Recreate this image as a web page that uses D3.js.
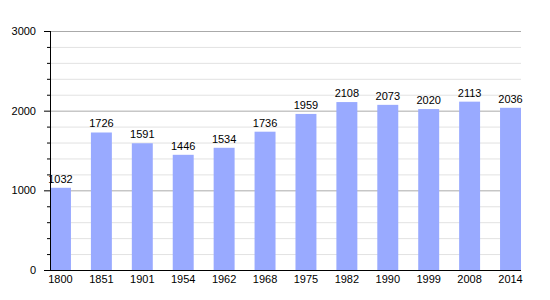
<!DOCTYPE html>
<html><head><meta charset="utf-8">
<script src="https://cdn.jsdelivr.net/npm/d3@7/dist/d3.min.js"></script>
<style>body{margin:0;background:#fff}svg{display:block}text{font-family:"Liberation Sans",Arial,sans-serif;font-size:11px;fill:#000}</style>
</head><body>
<svg id="c" width="550" height="300"></svg>
<script>
const years = ["1800","1851","1901","1954","1962","1968","1975","1982","1990","1999","2008","2014"];
const population = [1032,1726,1591,1446,1534,1736,1959,2108,2073,2020,2113,2036];
const majorTicks = [0,1000,2000,3000];
const minorTicks = d3.range(0,3001,200);

(function(){
const svg = d3.select("#c");
const mL = 50, mR = 521, mT = 31, mB = 270;
const x = d3.scaleBand().domain(years).range([mL, mR]).paddingInner(20/41).paddingOuter(0);
const y = d3.scaleLinear().domain([0,3000]).range([mB, mT]);

svg.append("g").selectAll("line").data(minorTicks.filter(d=>d%1000!==0)).join("line")
  .attr("x1",mL).attr("x2",mR).attr("y1",d=>y(d)+0.5).attr("y2",d=>y(d)+0.5)
  .attr("stroke","#e2e2e2").attr("stroke-width",1);
svg.append("g").selectAll("line").data(majorTicks.filter(d=>d>0)).join("line")
  .attr("x1",mL).attr("x2",mR).attr("y1",d=>y(d)+0.5).attr("y2",d=>y(d)+0.5)
  .attr("stroke","#aaaaaa").attr("stroke-width",1);

svg.append("g").selectAll("rect").data(population).join("rect")
  .attr("x",(d,i)=>x(years[i])).attr("width",x.bandwidth())
  .attr("y",d=>y(d)).attr("height",d=>mB-y(d))
  .attr("fill","#99aaff");

svg.append("g").selectAll("text").data(population).join("text")
  .attr("x",(d,i)=>x(years[i])+x.bandwidth()/2).attr("y",d=>y(d)-5)
  .attr("text-anchor","middle").text(d=>d);

svg.append("g").selectAll("line").data(minorTicks.filter(d=>d%1000!==0)).join("line")
  .attr("x1",mL-3).attr("x2",mL).attr("y1",d=>y(d)+0.5).attr("y2",d=>y(d)+0.5)
  .attr("stroke","#000");
svg.append("g").selectAll("line").data(majorTicks).join("line")
  .attr("x1",mL-6).attr("x2",mL).attr("y1",d=>y(d)+0.5).attr("y2",d=>y(d)+0.5)
  .attr("stroke","#000");

svg.append("g").selectAll("text").data(majorTicks).join("text")
  .attr("x",mL-14).attr("y",d=>y(d)+4).attr("text-anchor","end").text(d=>d);

svg.append("line").attr("x1",mL+0.5).attr("x2",mL+0.5).attr("y1",mT).attr("y2",mB+1).attr("stroke","#000");
svg.append("line").attr("x1",mL).attr("x2",mR).attr("y1",mB+0.5).attr("y2",mB+0.5).attr("stroke","#000");

svg.append("g").selectAll("text").data(years).join("text")
  .attr("x",d=>x(d)+x.bandwidth()/2).attr("y",mB+13)
  .attr("text-anchor","middle").text(d=>d);
})();
</script>
</body></html>
